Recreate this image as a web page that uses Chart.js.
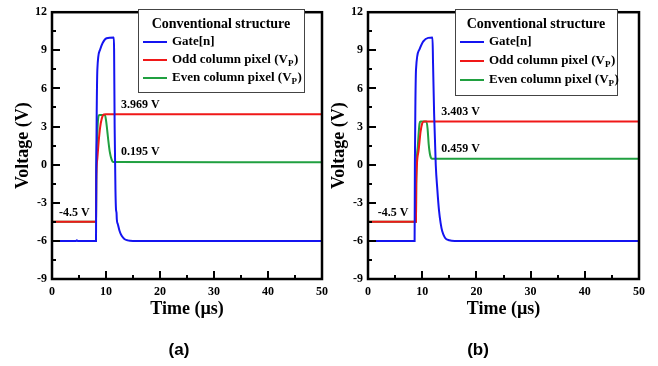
<!DOCTYPE html>
<html>
<head>
<meta charset="utf-8">
<script src="https://cdn.jsdelivr.net/npm/chart.js@4.4.0/dist/chart.umd.min.js"></script>
<style>
html, body { margin: 0; padding: 0; background: #fff; }
#wrap { position: relative; width: 658px; height: 366px; }
#wrap canvas { position: absolute; left: 0; top: 0; }
</style>
</head>
<body>
<div id="wrap">
  <canvas id="chartA" width="658" height="366"></canvas>
  <canvas id="chartB" width="658" height="366"></canvas>
</div>
<script>
// names shared by both panels ("_P" is drawn as a subscript)
const seriesNames = ['Gate[n]', 'Odd column pixel (V_P)', 'Even column pixel (V_P)'];
const seriesColors = ['#1414f0', '#f01818', '#20a040'];
const legendTitle = 'Conventional structure';

// axis ticks
const xTicks = [0, 10, 20, 30, 40, 50];
const yTicks = [-9, -6, -3, 0, 3, 6, 9, 12];

// panel (a) - time in us, voltage in V
const gateTimeA = [0, 4.5, 4.6, 4.7, 8.15, 8.2, 8.3, 8.4, 8.9, 9.4, 10.1, 11.45, 11.5, 11.6, 11.75, 11.85, 11.95, 12.0, 12.2, 12.5, 12.9, 13.4, 14, 15, 50];
const gateA     = [-6, -6, -5.95, -6, -6, 0, 5, 7.5, 9.05, 9.6, 9.95, 10, 9, 3, -2, -3.5, -3.8, -4.3, -4.7, -5.2, -5.6, -5.85, -5.96, -6, -6];
const oddTimeA  = [0, 8.15, 8.2, 8.4, 8.64, 8.9, 9.2, 9.6, 10, 50];
const oddA      = [-4.5, -4.5, -1.3, 0.5, 1.8, 2.9, 3.6, 3.95, 3.969, 3.969];
const evenTimeA = [0, 8.15, 8.2, 8.4, 8.6, 8.8, 9.8, 10.0, 10.2, 10.4, 10.7, 11.0, 11.35, 50];
const evenA     = [-4.5, -4.5, -1, 2.5, 3.8, 3.9, 3.9, 3.5, 2.8, 2.0, 1.0, 0.45, 0.2, 0.195];

// panel (b)
const gateTimeB = [0, 8.6, 8.65, 8.75, 8.86, 9.47, 10.2, 11.1, 11.9, 12.0, 12.2, 12.5, 12.8, 13.1, 13.4, 13.7, 14.2, 15, 16, 50];
const gateB     = [-6, -6, 0, 5, 7.5, 9.05, 9.7, 9.98, 10, 8, 4, 0, -2, -3.6, -4.6, -5.25, -5.75, -5.95, -6, -6];
const oddTimeB  = [0, 8.85, 8.9, 9.3, 9.7, 10.0, 10.3, 50];
const oddB      = [-4.5, -4.5, -1.5, 1.0, 2.6, 3.25, 3.403, 3.403];
const evenTimeB = [0, 8.85, 8.9, 9.2, 9.5, 9.7, 10.8, 11.0, 11.2, 11.4, 11.6, 11.8, 50];
const evenB     = [-4.5, -4.5, -1.5, 1.5, 3.2, 3.4, 3.4, 2.8, 1.6, 0.9, 0.55, 0.459, 0.459];

// value notes written on the plot
const notesA = ['3.969 V', '0.195 V', '-4.5 V'];
const notesB = ['3.403 V', '0.459 V', '-4.5 V'];

function pts(t, v) {
  return t.map(function (x, i) { return { x: x, y: v[i] }; });
}

const serif = 'Liberation Serif, Times New Roman, serif';

// draws the inner ticks, the frame, the boxed legend and the notes
function makeDecor(panel) {
  return {
    id: 'decor',
    afterDraw: function (chart) {
      const ctx = chart.ctx;
      const a = chart.chartArea;
      const xs = chart.scales.x, ys = chart.scales.y;
      ctx.save();
      ctx.strokeStyle = '#000';
      ctx.lineWidth = 2;
      ctx.beginPath();
      for (let v = 0; v <= 50; v += 5) {
        const px = Math.round(xs.getPixelForValue(v));
        ctx.moveTo(px, a.bottom);
        ctx.lineTo(px, a.bottom - (v % 10 === 0 ? 8 : 4));
      }
      for (let v = -9; v <= 12; v += 1.5) {
        const py = Math.round(ys.getPixelForValue(v));
        ctx.moveTo(a.left, py);
        ctx.lineTo(a.left + (v % 3 === 0 ? 8 : 4), py);
      }
      ctx.stroke();
      ctx.lineWidth = 2.5;
      ctx.strokeRect(a.left, a.top, a.right - a.left, a.bottom - a.top);

      // legend box
      const lg = panel.legend;
      ctx.fillStyle = '#fff';
      ctx.fillRect(lg.x, lg.y, lg.w, lg.h);
      ctx.lineWidth = 1;
      ctx.strokeStyle = '#444';
      ctx.strokeRect(lg.x + 0.5, lg.y + 0.5, lg.w, lg.h);
      ctx.fillStyle = '#000';
      ctx.textBaseline = 'middle';
      ctx.textAlign = 'center';
      ctx.font = 'bold 14px ' + serif;
      ctx.fillText(legendTitle, lg.x + lg.w / 2, lg.y + 15);
      ctx.textAlign = 'left';
      chart.data.datasets.forEach(function (ds, i) {
        const ry = lg.y + lg.rows[i];
        ctx.strokeStyle = ds.borderColor;
        ctx.lineWidth = 2;
        ctx.beginPath();
        ctx.moveTo(lg.x + 5, ry);
        ctx.lineTo(lg.x + 29, ry);
        ctx.stroke();
        const parts = ds.label.split('_');
        let tx = lg.x + 34;
        ctx.font = 'bold 13px ' + serif;
        ctx.fillText(parts[0], tx, ry);
        if (parts.length > 1) {
          tx += ctx.measureText(parts[0]).width;
          const sub = parts[1].charAt(0);
          const rest = parts[1].slice(1);
          ctx.font = 'bold 9px ' + serif;
          ctx.fillText(sub, tx, ry + 4);
          tx += ctx.measureText(sub).width + 0.5;
          ctx.font = 'bold 13px ' + serif;
          ctx.fillText(rest, tx, ry);
        }
      });

      // value notes, anchored in data units
      ctx.font = 'bold 12px ' + serif;
      ctx.fillStyle = '#000';
      panel.notes.forEach(function (txt, i) {
        const at = panel.noteAt[i];
        ctx.fillText(txt, xs.getPixelForValue(at[0]), ys.getPixelForValue(at[1]));
      });

      // panel letter
      ctx.textAlign = 'center';
      ctx.font = 'bold 17px Liberation Sans, Arial, sans-serif';
      ctx.fillText(panel.letter, panel.letterX, 350);
      ctx.restore();
    }
  };
}

function makeChart(id, panel) {
  const tickFont = { family: serif, size: 12, weight: 'bold' };
  const titleFont = { family: serif, size: 18, weight: 'bold' };
  return new Chart(document.getElementById(id), {
    type: 'line',
    data: {
      datasets: panel.series.map(function (s, i) {
        return {
          label: seriesNames[i],
          data: s,
          borderColor: seriesColors[i],
          backgroundColor: seriesColors[i],
          borderWidth: 2,
          pointRadius: 0,
          fill: false,
          cubicInterpolationMode: 'monotone'
        };
      })
    },
    options: {
      responsive: false,
      animation: false,
      devicePixelRatio: 1,
      layout: { padding: panel.padding },
      plugins: { legend: { display: false }, tooltip: { enabled: false } },
      events: [],
      scales: {
        x: {
          type: 'linear', min: 0, max: 50,
          afterFit: function (s) { s.height = 87; },
          afterBuildTicks: function (s) { s.ticks = xTicks.map(function (v) { return { value: v }; }); },
          grid: { display: false, drawTicks: false },
          border: { display: false },
          ticks: { color: '#000', font: tickFont, padding: 6, maxRotation: 0 },
          title: { display: true, text: 'Time (µs)', color: '#000', font: titleFont, padding: { top: 0, bottom: 46 } }
        },
        y: {
          type: 'linear', min: -9, max: 12,
          afterFit: function (s) { s.width = 52; },
          afterBuildTicks: function (s) { s.ticks = yTicks.map(function (v) { return { value: v }; }); },
          grid: { display: false, drawTicks: false },
          border: { display: false },
          ticks: { color: '#000', font: tickFont, padding: 5 },
          title: { display: true, text: 'Voltage (V)', color: '#000', font: titleFont, padding: { top: 13, bottom: 0 } }
        }
      }
    },
    plugins: [makeDecor(panel)]
  });
}

makeChart('chartA', {
  series: [pts(gateTimeA, gateA), pts(oddTimeA, oddA), pts(evenTimeA, evenA)],
  padding: { left: 0, right: 336, top: 9, bottom: 0 },
  legend: { x: 138, y: 9, w: 166, h: 83, rows: [33, 51, 69] },
  notes: notesA,
  noteAt: [[12.8, 4.74], [12.8, 1.0], [1.3, -3.8]],
  letter: '(a)', letterX: 179
});

makeChart('chartB', {
  series: [pts(gateTimeB, gateB), pts(oddTimeB, oddB), pts(evenTimeB, evenB)],
  padding: { left: 316, right: 19, top: 9, bottom: 0 },
  legend: { x: 455, y: 9, w: 162, h: 86, rows: [33, 52, 71] },
  notes: notesB,
  noteAt: [[13.5, 4.17], [13.5, 1.27], [1.8, -3.83]],
  letter: '(b)', letterX: 478
});
</script>
</body>
</html>
